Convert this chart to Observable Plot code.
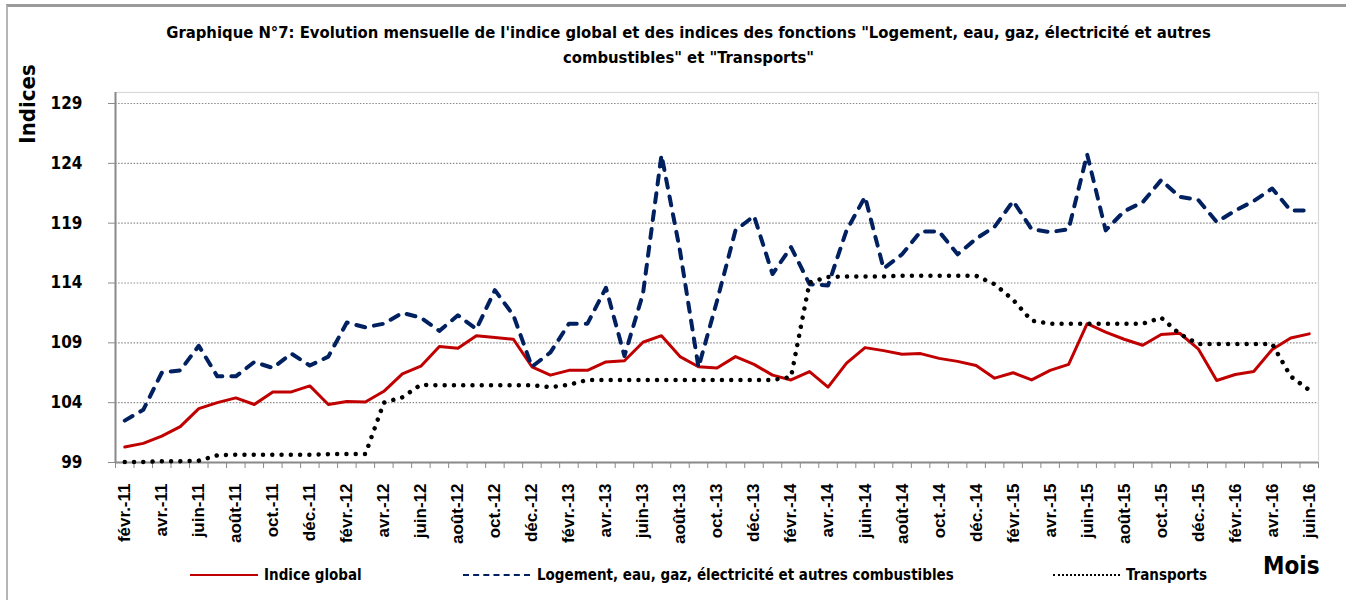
<!DOCTYPE html>
<html>
<head>
<meta charset="utf-8">
<script src="https://cdn.jsdelivr.net/npm/d3@7"></script>
<script src="https://cdn.jsdelivr.net/npm/@observablehq/plot@0.6"></script>
<style>
  html, body { margin: 0; padding: 0; background: #fff; }
  #wrap { position: relative; width: 1346px; height: 600px; overflow: hidden; background: #fff;
    font-family: "Liberation Sans Narrow", "Arial Narrow", "DejaVu Sans Condensed", sans-serif; font-weight: bold; color: #000; }
  #border { position: absolute; left: 6px; top: 4px; width: 1400px; height: 700px;
    border-top: 3px solid #9a9a9a; border-left: 2px solid #b5b5b5; }
  #title { position: absolute; left: 0; top: 20px; width: 1377px; text-align: center; font-size: 16.5px; line-height: 25px; }
  #chart { position: absolute; left: 0; top: 0; }
  #ylab { position: absolute; left: 27px; top: 104px; transform: translate(-50%, -50%) rotate(-90deg); font-size: 22px; white-space: nowrap; }
  #xlab { position: absolute; left: 1263px; top: 552px; font-size: 24px; }
  .leg { position: absolute; top: 565px; font-size: 15px; white-space: nowrap; line-height: 20px; }
  .sw { position: absolute; top: 574px; height: 0; }
  #chart text { font-weight: bold; }
</style>
</head>
<body>
<div id="wrap">
  <div id="border"></div>
  <div id="title">Graphique N°7: Evolution mensuelle de l'indice global et des indices des fonctions "Logement, eau, gaz, électricité et autres<br>combustibles" et "Transports"</div>
  <div id="ylab">Indices</div>
  <div id="xlab">Mois</div>
  <div class="sw" style="left:190px;width:68px;border-top:2.5px solid #c00000;"></div>
  <div class="leg" style="left:264px;">Indice global</div>
  <div class="sw" style="left:463px;width:67px;border-top:2.5px dashed #002060;"></div>
  <div class="leg" style="left:537px;">Logement, eau, gaz, électricité et autres combustibles</div>
  <div class="sw" style="left:1053px;width:67px;border-top:2px dotted #000;"></div>
  <div class="leg" style="left:1126px;">Transports</div>
</div>
<script>
// Month categories (févr. 2011 → juin 2016)
const months = [
  "févr.-11","mars-11","avr.-11","mai-11","juin-11","juil.-11","août-11","sept.-11","oct.-11","nov.-11","déc.-11",
  "janv.-12","févr.-12","mars-12","avr.-12","mai-12","juin-12","juil.-12","août-12","sept.-12","oct.-12","nov.-12","déc.-12",
  "janv.-13","févr.-13","mars-13","avr.-13","mai-13","juin-13","juil.-13","août-13","sept.-13","oct.-13","nov.-13","déc.-13",
  "janv.-14","févr.-14","mars-14","avr.-14","mai-14","juin-14","juil.-14","août-14","sept.-14","oct.-14","nov.-14","déc.-14",
  "janv.-15","févr.-15","mars-15","avr.-15","mai-15","juin-15","juil.-15","août-15","sept.-15","oct.-15","nov.-15","déc.-15",
  "janv.-16","févr.-16","mars-16","avr.-16","mai-16","juin-16"
];

// Series values
const indiceGlobal = [
  100.3,100.6,101.2,102.0,103.5,104.0,104.4,103.85,104.9,104.9,105.4,
  103.85,104.1,104.05,104.95,106.4,107.05,108.7,108.55,109.6,109.45,109.3,107.0,
  106.3,106.7,106.7,107.4,107.5,109.05,109.6,107.85,107.0,106.9,107.85,107.2,
  106.3,105.9,106.6,105.3,107.3,108.6,108.35,108.05,108.1,107.7,107.45,107.1,
  106.05,106.5,105.9,106.7,107.2,110.6,109.9,109.3,108.8,109.7,109.8,108.5,
  105.85,106.35,106.6,108.45,109.4,109.75
];
const logement = [
  102.5,103.4,106.5,106.7,108.75,106.2,106.2,107.4,106.9,108.1,107.1,
  107.85,110.7,110.3,110.6,111.5,111.1,110.0,111.3,110.15,113.4,111.3,107.0,
  108.2,110.6,110.6,113.6,107.9,113.1,124.7,116.7,106.95,112.5,118.4,119.6,
  114.75,117.0,113.9,113.8,118.4,121.2,115.2,116.4,118.3,118.3,116.4,117.7,
  118.7,120.85,118.5,118.25,118.5,124.75,118.4,120.0,120.75,122.6,121.2,120.95,
  119.1,120.05,120.85,121.9,120.05,120.05
];
const transports = [
  99.05,99.05,99.1,99.1,99.15,99.6,99.65,99.65,99.65,99.65,99.65,
  99.7,99.7,99.7,104.0,104.45,105.5,105.45,105.45,105.45,105.45,105.45,105.45,
  105.3,105.5,105.9,105.9,105.9,105.9,105.9,105.9,105.9,105.9,105.9,105.9,
  105.9,106.15,114.05,114.5,114.55,114.55,114.55,114.6,114.6,114.6,114.6,114.6,
  113.9,112.6,110.85,110.6,110.6,110.6,110.6,110.6,110.6,111.1,109.75,108.9,
  108.9,108.9,108.9,108.9,106.2,105.05
];
const yTicks = [99, 104, 109, 114, 119, 124, 129];

const rows = months.map((m, i) => ({i, m, g: indiceGlobal[i], l: logement[i], t: transports[i]}));
const labelIdx = d3.range(0, months.length, 2);
const boundaries = d3.range(-0.5, months.length, 1);

const chart = Plot.plot({
  width: 1346,
  height: 600,
  marginTop: 92,
  marginBottom: 138,
  marginLeft: 115,
  marginRight: 28,
  style: {background: "transparent", color: "#000", fontFamily: "'Liberation Sans', Arial, sans-serif"},
  x: {type: "linear", domain: [-0.5, months.length - 0.5]},
  y: {domain: [99, 129.92]},
  marks: [
    Plot.frame({stroke: "#d9d9d9", strokeWidth: 1.2}),
    Plot.gridY(yTicks.slice(1), {stroke: "#8a8a8a", strokeOpacity: 1, strokeWidth: 1.2, strokeDasharray: "1.5,1.6"}),
    Plot.axisY(yTicks, {tickSize: 7, tickPadding: 26, stroke: "#8a8a8a", fontSize: 17, fontWeight: "bold",
      fontFamily: "'Liberation Sans Narrow','Arial Narrow','DejaVu Sans Condensed',sans-serif", label: null}),
    Plot.axisX(boundaries, {tickSize: 6, stroke: "#8a8a8a", tickFormat: () => "", label: null}),
    Plot.axisX(labelIdx, {tickSize: 0, tickPadding: 21, tickRotate: -90, fontSize: 17, fontWeight: "bold",
      tickFormat: i => months[i], label: null}),
    Plot.ruleX([-0.5], {stroke: "#8a8a8a", strokeWidth: 2}),
    Plot.ruleY([99], {stroke: "#8a8a8a", strokeWidth: 2}),
    Plot.line(rows, {x: "i", y: "g", stroke: "#c00000", strokeWidth: 3}),
    Plot.line(rows, {x: "i", y: "l", stroke: "#002060", strokeWidth: 4, strokeDasharray: "9,9", strokeLinecap: "round"}),
    Plot.line(rows, {x: "i", y: "t", stroke: "#000", strokeWidth: 4.5, strokeDasharray: "0.01,9.26", strokeLinecap: "round"})
  ]
});
chart.id = "chart";
document.getElementById("wrap").insertBefore(chart, document.getElementById("title"));
</script>
</body>
</html>
